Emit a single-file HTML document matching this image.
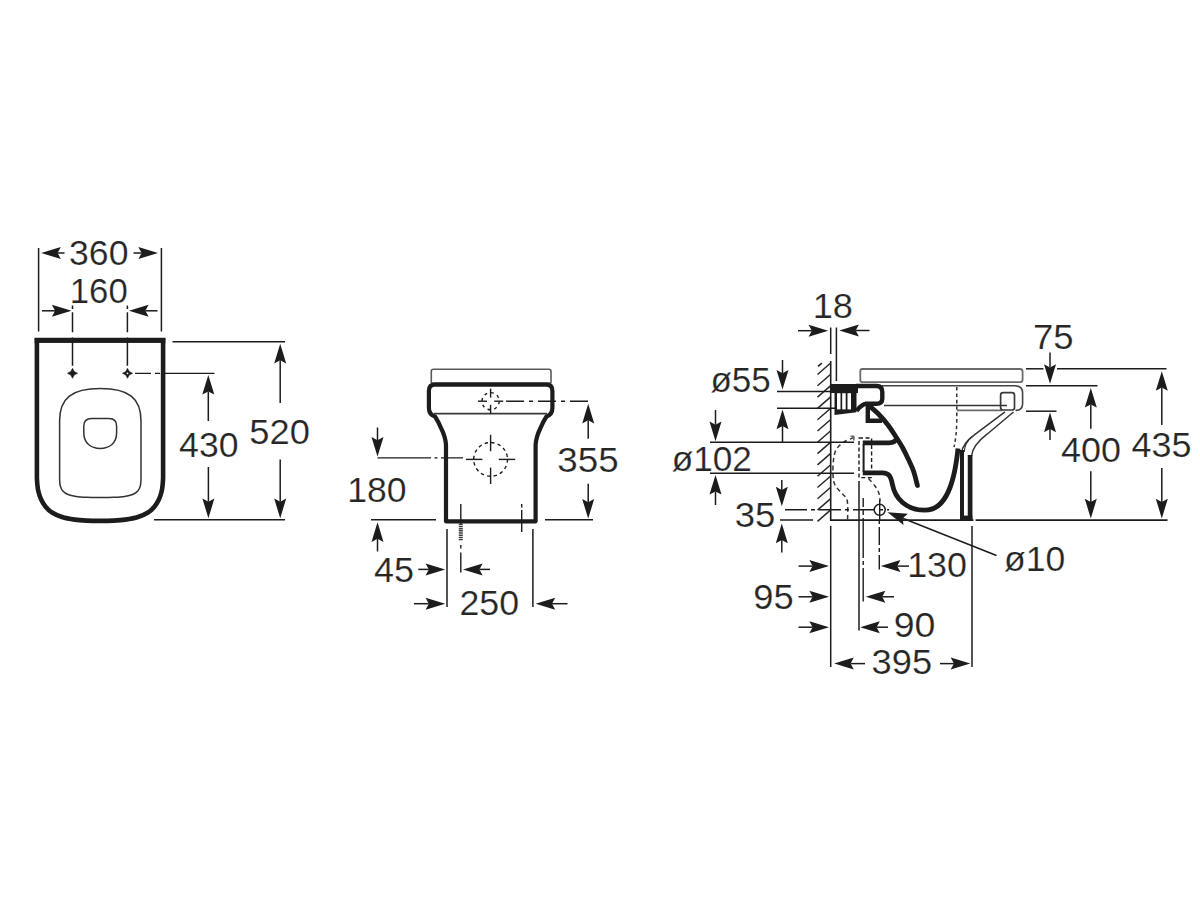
<!DOCTYPE html>
<html lang="en">
<head>
<meta charset="utf-8">
<title>Technical drawing</title>
<style>
html,body{margin:0;padding:0;background:#fff;}
body{width:1200px;height:900px;overflow:hidden;}
svg{display:block;}
svg text{font-family:"Liberation Sans",sans-serif;font-size:34.5px;fill:#262626;stroke:#fff;stroke-width:0.2px;paint-order:fill stroke;}
</style>
</head>
<body>
<svg width="1200" height="900" viewBox="0 0 1200 900" fill="#1c1c1c" stroke="#1c1c1c" stroke-linecap="butt" stroke-linejoin="round">
<rect x="0" y="0" width="1200" height="900" fill="#ffffff" stroke="none"/>
<g id="01_left">
<line x1="38.60" y1="248.00" x2="38.60" y2="331.50" stroke-width="1.50"/>
<line x1="161.40" y1="248.00" x2="161.40" y2="331.50" stroke-width="1.50"/>
<text transform="translate(69.05 264.75) scale(1.0330 1)">360</text>
<polygon stroke="none" points="41.20,253.00 60.80,247.00 57.60,253.00 60.80,259.00"/><line x1="57.60" y1="253.00" x2="64.50" y2="253.00" stroke-width="1.50"/>
<polygon stroke="none" points="158.00,253.00 138.40,259.00 141.60,253.00 138.40,247.00"/><line x1="141.60" y1="253.00" x2="133.50" y2="253.00" stroke-width="1.50"/>
<text transform="translate(69.76 302.75) scale(1.0079 1)">160</text>
<polygon stroke="none" points="71.50,310.80 51.90,316.80 55.10,310.80 51.90,304.80"/><line x1="55.10" y1="310.80" x2="42.00" y2="310.80" stroke-width="1.50"/>
<polygon stroke="none" points="129.00,310.80 148.60,304.80 145.40,310.80 148.60,316.80"/><line x1="145.40" y1="310.80" x2="157.50" y2="310.80" stroke-width="1.50"/>
<line x1="72.50" y1="305.60" x2="72.50" y2="365.80" stroke-width="1.50" stroke-dasharray="3.4 3.2 20 5.4 100 0"/>
<line x1="127.40" y1="305.60" x2="127.40" y2="365.80" stroke-width="1.50" stroke-dasharray="3.4 3.2 20 5.4 100 0"/>
<path d="M36.9 340.4 L36.9 478  C36.97 479.00 37.07 481.83 37.30 484.00 C37.53 486.17 37.68 488.45 38.30 491.00 C38.92 493.55 39.78 496.68 41.00 499.30 C42.22 501.92 43.77 504.50 45.60 506.70 C47.43 508.90 49.27 510.78 52.00 512.50 C54.73 514.22 58.22 515.82 62.00 517.00 C65.78 518.18 70.58 519.00 74.70 519.60 C78.82 520.20 82.48 520.38 86.70 520.60 C90.92 520.82 95.57 520.90 100.00 520.90 C104.43 520.90 109.08 520.82 113.30 520.60 C117.52 520.38 121.18 520.20 125.30 519.60 C129.42 519.00 134.22 518.18 138.00 517.00 C141.78 515.82 145.27 514.22 148.00 512.50 C150.73 510.78 152.57 508.90 154.40 506.70 C156.23 504.50 157.78 501.92 159.00 499.30 C160.22 496.68 161.08 493.55 161.70 491.00 C162.32 488.45 162.47 486.17 162.70 484.00 C162.93 481.83 163.03 479.00 163.10 478.00 L163.1 340.4 Z" fill="none" stroke-width="4.60" stroke-linejoin="miter"/>
<line x1="34.60" y1="340.30" x2="165.40" y2="340.30" stroke-width="5.00"/>
<path d="M59.6 476 L59.6 421 C59.6 398 72 388.6 100.3 388.6 C128.5 388.6 141 398 141 421 L141 476" fill="none" stroke-width="1.50" stroke="#333" />
<path d="M59.60 476.00 C59.62 476.83 59.58 479.33 59.70 481.00 C59.82 482.67 59.78 484.33 60.30 486.00 C60.82 487.67 61.52 489.58 62.80 491.00 C64.08 492.42 65.80 493.60 68.00 494.50 C70.20 495.40 72.88 495.95 76.00 496.40 C79.12 496.85 82.70 497.03 86.70 497.20 C90.70 497.37 95.47 497.40 100.00 497.40 C104.53 497.40 109.80 497.37 113.90 497.20 C118.00 497.03 121.48 496.85 124.60 496.40 C127.72 495.95 130.40 495.40 132.60 494.50 C134.80 493.60 136.52 492.42 137.80 491.00 C139.08 489.58 139.78 487.67 140.30 486.00 C140.82 484.33 140.78 482.67 140.90 481.00 C141.02 479.33 140.98 476.83 141.00 476.00" fill="none" stroke-width="1.50" stroke="#333" />
<path d="M83.8 426 Q83.8 418.6 91.5 418.6 L109 418.6 Q116.6 418.6 116.6 426 L116.6 433 C116.6 443 109.5 448.4 100.2 448.4 C91 448.4 83.8 443 83.8 433 Z" fill="none" stroke-width="1.50" stroke="#333" />
<path d="M72.50 368.30 L74.20 371.60 L77.50 373.30 L74.20 375.00 L72.50 378.30 L70.80 375.00 L67.50 373.30 L70.80 371.60 Z" stroke-width="0.6"/>
<path d="M127.50 368.30 L129.20 371.60 L132.50 373.30 L129.20 375.00 L127.50 378.30 L125.80 375.00 L122.50 373.30 L125.80 371.60 Z" stroke-width="0.6"/>
<circle cx="127.50" cy="373.30" r="0.9" fill="#fff" stroke="none"/>
<line x1="135.00" y1="373.40" x2="214.50" y2="373.40" stroke-width="1.20" stroke-dasharray="16 4 5 4 100 0"/>
<line x1="172.50" y1="341.80" x2="285.00" y2="341.80" stroke-width="1.50"/>
<line x1="154.00" y1="519.80" x2="285.00" y2="519.80" stroke-width="1.50"/>
<polygon stroke="none" points="280.20,343.80 286.20,363.40 280.20,360.20 274.20,363.40"/><line x1="280.20" y1="360.20" x2="280.20" y2="403.00" stroke-width="1.50"/>
<polygon stroke="none" points="280.20,518.20 274.20,498.60 280.20,501.80 286.20,498.60"/><line x1="280.20" y1="501.80" x2="280.20" y2="459.50" stroke-width="1.50"/>
<polygon stroke="none" points="208.30,375.00 214.30,394.60 208.30,391.40 202.30,394.60"/><line x1="208.30" y1="391.40" x2="208.30" y2="421.00" stroke-width="1.50"/>
<polygon stroke="none" points="208.40,518.20 202.40,498.60 208.40,501.80 214.40,498.60"/><line x1="208.40" y1="501.80" x2="208.40" y2="467.00" stroke-width="1.50"/>
<text transform="translate(179.08 456.95) scale(1.0324 1)">430</text>
<text transform="translate(249.25 443.95) scale(1.0525 1)">520</text>
</g>
<g id="02_mid">
<path d="M433.5 369.2 L549 369.2 Q551 369.2 551 371.2 L551 383 L431.3 383 L431.3 371.2 Q431.3 369.2 433.5 369.2 Z" fill="none" stroke-width="1.60" stroke="#5a5a5a" />
<path d="M435 384.7 L546.2 384.7 Q552.4 384.7 552.4 391 L552.4 408 Q552.4 414.5 546.5 416.5 Q543.5 421 540.5 428 Q536 437 535.6 445 L535.6 521.3 L446 521.3 L446 445 Q445.6 437 441 428 Q438 421 435 416.5 Q428.9 414.5 428.9 408 L428.9 391 Q428.9 384.7 435 384.7 Z" fill="none" stroke-width="4.20" />
<line x1="434.00" y1="413.60" x2="547.00" y2="413.60" stroke-width="1.70" stroke="#3a3a3a"/>
<circle cx="490.6" cy="401.2" r="8.6" fill="none" stroke-width="1.4" stroke-dasharray="3 3.75"/>
<line x1="494.20" y1="401.20" x2="503.20" y2="401.20" stroke-width="1.40"/>
<line x1="487.00" y1="401.20" x2="478.00" y2="401.20" stroke-width="1.40"/>
<line x1="490.60" y1="404.80" x2="490.60" y2="413.80" stroke-width="1.40"/>
<line x1="490.60" y1="397.60" x2="490.60" y2="388.60" stroke-width="1.40"/>
<line x1="506.00" y1="401.20" x2="589.50" y2="401.20" stroke-width="1.40" stroke-dasharray="18 5 4 5"/>
<circle cx="490.6" cy="459.4" r="16.9" fill="none" stroke-width="1.4" stroke-dasharray="3.4 3.24"/>
<line x1="498.80" y1="459.40" x2="515.20" y2="459.40" stroke-width="1.40"/>
<line x1="482.40" y1="459.40" x2="466.00" y2="459.40" stroke-width="1.40"/>
<line x1="490.60" y1="467.60" x2="490.60" y2="484.00" stroke-width="1.40"/>
<line x1="490.60" y1="451.20" x2="490.60" y2="434.80" stroke-width="1.40"/>
<line x1="377.50" y1="457.90" x2="463.00" y2="457.90" stroke-width="1.40" stroke-dasharray="53.5 3.5 3 3.5 100 0"/>
<line x1="371.00" y1="519.80" x2="436.00" y2="519.80" stroke-width="1.50"/>
<line x1="545.00" y1="519.80" x2="593.00" y2="519.80" stroke-width="1.50"/>
<polygon stroke="none" points="377.50,456.60 371.50,437.00 377.50,440.20 383.50,437.00"/><line x1="377.50" y1="440.20" x2="377.50" y2="427.50" stroke-width="1.50"/>
<polygon stroke="none" points="377.50,522.30 383.50,541.90 377.50,538.70 371.50,541.90"/><line x1="377.50" y1="538.70" x2="377.50" y2="551.50" stroke-width="1.50"/>
<text transform="translate(347.20 501.75) scale(1.0303 1)">180</text>
<polygon stroke="none" points="588.20,403.80 594.20,423.40 588.20,420.20 582.20,423.40"/><line x1="588.20" y1="420.20" x2="588.20" y2="438.80" stroke-width="1.50"/>
<polygon stroke="none" points="588.20,518.60 582.20,499.00 588.20,502.20 594.20,499.00"/><line x1="588.20" y1="502.20" x2="588.20" y2="483.80" stroke-width="1.50"/>
<text transform="translate(557.30 472.06) scale(1.0660 1)">355</text>
<line x1="447.00" y1="529.00" x2="447.00" y2="607.00" stroke-width="1.50"/>
<line x1="532.90" y1="529.00" x2="532.90" y2="607.00" stroke-width="1.50"/>
<line x1="460.80" y1="504.00" x2="460.80" y2="524.00" stroke-width="1.40"/>
<line x1="460.80" y1="523.50" x2="460.80" y2="540.30" stroke-width="4.00" stroke-dasharray="1.5 0.7" stroke="#3c3c3c"/>
<line x1="460.80" y1="545.00" x2="460.80" y2="572.50" stroke-width="1.40" stroke-dasharray="3.4 4 30 0"/>
<line x1="521.70" y1="504.00" x2="521.70" y2="532.00" stroke-width="1.40" stroke-dasharray="3.6 2.4 30 0"/>
<text transform="translate(374.07 582.25) scale(1.0437 1)">45</text>
<polygon stroke="none" points="445.20,569.40 425.60,575.40 428.80,569.40 425.60,563.40"/><line x1="428.80" y1="569.40" x2="418.30" y2="569.40" stroke-width="1.50"/>
<polygon stroke="none" points="463.00,569.40 482.60,563.40 479.40,569.40 482.60,575.40"/><line x1="479.40" y1="569.40" x2="490.00" y2="569.40" stroke-width="1.50"/>
<text transform="translate(459.41 614.75) scale(1.0353 1)">250</text>
<polygon stroke="none" points="445.20,603.70 425.60,609.70 428.80,603.70 425.60,597.70"/><line x1="428.80" y1="603.70" x2="414.00" y2="603.70" stroke-width="1.50"/>
<polygon stroke="none" points="535.60,603.70 555.20,597.70 552.00,603.70 555.20,609.70"/><line x1="552.00" y1="603.70" x2="567.50" y2="603.70" stroke-width="1.50"/>
</g>
<g id="03_right_body">
<line x1="830.70" y1="361.00" x2="830.70" y2="521.00" stroke-width="1.60"/>
<path d="M817.50 374.50 L830.7 363.00 M817.50 385.80 L830.7 374.30 M817.50 397.10 L830.7 385.60 M817.50 408.40 L830.7 396.90 M817.50 419.70 L830.7 408.20 M817.50 431.00 L830.7 419.50 M817.50 442.30 L830.7 430.80 M817.50 453.60 L830.7 442.10 M817.50 464.90 L830.7 453.40 M817.50 476.20 L830.7 464.70 M817.50 487.50 L830.7 476.00 M817.50 498.80 L830.7 487.30 M817.50 510.10 L830.7 498.60 M817.50 521.40 L830.7 509.90" fill="none" stroke-width="1.50" stroke="#2a2a2a" />
<line x1="818.00" y1="366.30" x2="821.80" y2="363.20" stroke-width="1.50"/>
<path d="M862.5 369 L1020 369 Q1022.6 369 1022.6 371.8 L1022.6 379.4 Q1022.6 382.2 1020 382.2 L862.5 382.2 Q860.3 382.2 860.3 380 L860.3 371.2 Q860.3 369 862.5 369 Z" fill="none" stroke-width="1.80" stroke="#6a6a6a" />
<path d="M882 385.8 L1015 385.8 Q1022.6 385.8 1022.6 393 L1022.6 404 Q1022.6 410.4 1015.5 410.4" fill="none" stroke-width="1.60" stroke="#444" />
<line x1="884.00" y1="405.50" x2="1007.00" y2="405.50" stroke-width="1.50" stroke="#333"/>
<line x1="957.00" y1="410.30" x2="1002.00" y2="410.30" stroke-width="1.70" stroke="#6a6a6a"/>
<rect x="1000.6" y="392.6" width="13.9" height="17.4" rx="2.6" ry="2.6" fill="none" stroke="#3a3a3a" stroke-width="1.7"/>
<path d="M956.8 387 L956.8 420 Q956.6 436 954 447" fill="none" stroke-width="1.50" stroke-dasharray="3.6 2.8" stroke="#333" />
<path d="M1005 411.8 L975 434.4 Q962 444 961.6 453" fill="none" stroke-width="1.50" stroke="#333" />
<path d="M1013.5 412 L987 434.2 Q972.5 445.5 971.5 456" fill="none" stroke-width="1.50" stroke="#333" />
<path d="M972 436.5 Q964.5 443 964.2 452" fill="none" stroke-width="1.20" stroke="#333" />
<line x1="962.00" y1="450.00" x2="962.00" y2="520.00" stroke-width="4.00"/>
<line x1="970.10" y1="455.00" x2="970.10" y2="520.00" stroke-width="4.70"/>
<line x1="960.00" y1="517.80" x2="972.40" y2="517.80" stroke-width="4.40"/>
<path d="M830.7 384 L858 384 L858 393 L856.5 393 L856.5 412.2 L834.5 415 L834.5 393 L830.7 393 Z" stroke="none"/>
<rect x="837.0" y="393.2" width="3.5" height="16.2" fill="#fff" stroke="none"/>
<rect x="842.2" y="393.2" width="3.5" height="16.2" fill="#fff" stroke="none"/>
<rect x="847.5" y="393.2" width="3.5" height="16.2" fill="#fff" stroke="none"/>
<path d="M856 386 L876.5 386 Q882.3 386 882.3 392 L882.3 398.5 Q882.3 403.8 876.5 403.8 L866 403.8 Q862 404.2 856.5 410.8" fill="none" stroke-width="4.40" />
<path d="M867.8 405 L867.8 420.7 L882 420.7" fill="none" stroke-width="4.40" stroke-linejoin="miter"/>
<path d="M869.50 406.00 C870.92 407.25 874.92 410.33 878.00 413.50 C881.08 416.67 885.00 421.08 888.00 425.00 C891.00 428.92 893.58 433.25 896.00 437.00 C898.42 440.75 900.50 443.92 902.50 447.50 C904.50 451.08 906.17 454.58 908.00 458.50 C909.83 462.42 911.93 466.50 913.50 471.00 C915.07 475.50 916.75 483.08 917.40 485.50" fill="none" stroke-width="4.80" stroke-linecap="round"/>
<path d="M862.8 442.8 L889 442.8 Q895.5 442.5 897 438" fill="none" stroke-width="4.80" />
<line x1="863.60" y1="444.00" x2="863.60" y2="472.00" stroke-width="2.00"/>
<path d="M862.8 472.8 L882.5 472.8 C889 472.8 890.8 476.5 892.3 484 C895 498.5 906 510.2 925 510.2 C942 510.2 953.5 493 958 448.5" fill="none" stroke-width="4.80" />
<rect x="859" y="438" width="12.6" height="39.6" fill="none" stroke-width="1.4" stroke-dasharray="4 2.5"/>
<path d="M854.00 437.50 C852.17 438.33 846.00 440.42 843.00 442.50 C840.00 444.58 837.58 447.08 836.00 450.00 C834.42 452.92 834.00 455.83 833.50 460.00 C833.00 464.17 832.75 470.83 833.00 475.00 C833.25 479.17 833.50 481.92 835.00 485.00 C836.50 488.08 839.97 490.92 842.00 493.50 C844.03 496.08 846.27 496.08 847.20 500.50 C848.13 504.92 847.53 516.75 847.60 520.00" fill="none" stroke-width="1.50" stroke-dasharray="4.5 3.2" stroke="#333" />
<path d="M850.5 436.2 L853.8 436.2 L853.8 440.5" fill="none" stroke-width="1.60" stroke="#6a6a6a" />
<path d="M868.50 478.50 C869.58 479.75 873.25 483.50 875.00 486.00 C876.75 488.50 878.17 491.00 879.00 493.50 C879.83 496.00 879.83 499.75 880.00 501.00" fill="none" stroke-width="1.50" stroke-dasharray="4.5 3.2" stroke="#333" />
<circle cx="879.7" cy="509.8" r="5.5" fill="none" stroke-width="1.5"/>
<line x1="879.70" y1="500.00" x2="879.70" y2="520.00" stroke-width="1.40"/>
<line x1="830.00" y1="520.10" x2="973.50" y2="520.10" stroke-width="1.90"/>
<line x1="975.60" y1="520.10" x2="1167.50" y2="520.10" stroke-width="1.90"/>
</g>
<g id="04_right_dims">
<text transform="translate(812.64 318.06) scale(1.0508 1)">18</text>
<line x1="830.70" y1="327.50" x2="830.70" y2="354.00" stroke-width="1.50"/>
<line x1="836.40" y1="327.50" x2="836.40" y2="381.00" stroke-width="1.50"/>
<polygon stroke="none" points="828.20,330.70 808.60,336.70 811.80,330.70 808.60,324.70"/><line x1="811.80" y1="330.70" x2="798.00" y2="330.70" stroke-width="1.50"/>
<polygon stroke="none" points="839.30,330.50 858.90,324.50 855.70,330.50 858.90,336.50"/><line x1="855.70" y1="330.50" x2="869.50" y2="330.50" stroke-width="1.50"/>
<text transform="translate(710.43 391.75) scale(1.0169 1)">ø55</text>
<line x1="777.00" y1="391.50" x2="835.00" y2="391.50" stroke-width="1.50"/>
<line x1="777.00" y1="408.30" x2="835.00" y2="408.30" stroke-width="1.50"/>
<polygon stroke="none" points="782.50,389.60 776.50,370.00 782.50,373.20 788.50,370.00"/><line x1="782.50" y1="373.20" x2="782.50" y2="360.00" stroke-width="1.50"/>
<polygon stroke="none" points="782.50,409.60 788.50,429.20 782.50,426.00 776.50,429.20"/><line x1="782.50" y1="426.00" x2="782.50" y2="442.50" stroke-width="1.50"/>
<text transform="translate(671.63 471.06) scale(1.0205 1)">ø102</text>
<line x1="710.00" y1="442.30" x2="854.00" y2="442.30" stroke-width="1.50"/>
<line x1="710.00" y1="473.30" x2="854.00" y2="473.30" stroke-width="1.50"/>
<polygon stroke="none" points="715.50,441.20 709.50,421.60 715.50,424.80 721.50,421.60"/><line x1="715.50" y1="424.80" x2="715.50" y2="410.00" stroke-width="1.50"/>
<polygon stroke="none" points="715.50,475.00 721.50,494.60 715.50,491.40 709.50,494.60"/><line x1="715.50" y1="491.40" x2="715.50" y2="505.00" stroke-width="1.50"/>
<text transform="translate(734.81 527.05) scale(1.0589 1)">35</text>
<polygon stroke="none" points="781.80,506.30 775.80,486.70 781.80,489.90 787.80,486.70"/><line x1="781.80" y1="489.90" x2="781.80" y2="480.00" stroke-width="1.50"/>
<polygon stroke="none" points="781.80,523.60 787.80,543.20 781.80,540.00 775.80,543.20"/><line x1="781.80" y1="540.00" x2="781.80" y2="552.50" stroke-width="1.50"/>
<line x1="785.00" y1="509.80" x2="889.00" y2="509.80" stroke-width="1.40" stroke-dasharray="22 4 4 4"/>
<line x1="780.00" y1="520.10" x2="813.00" y2="520.10" stroke-width="1.50"/>
<line x1="830.70" y1="526.00" x2="830.70" y2="667.00" stroke-width="1.50"/>
<line x1="859.00" y1="481.00" x2="859.00" y2="630.50" stroke-width="1.50"/>
<line x1="863.20" y1="498.00" x2="863.20" y2="601.50" stroke-width="1.40" stroke-dasharray="9 3 5 3 40 3 4 3 100 0"/>
<line x1="879.30" y1="520.00" x2="879.30" y2="569.50" stroke-width="1.40" stroke-dasharray="4 3 18 3 4 3 100 0"/>
<line x1="972.00" y1="526.00" x2="972.00" y2="667.00" stroke-width="1.50"/>
<text transform="translate(907.17 576.75) scale(1.0396 1)">130</text>
<polygon stroke="none" points="829.00,566.10 809.40,572.10 812.60,566.10 809.40,560.10"/><line x1="812.60" y1="566.10" x2="798.50" y2="566.10" stroke-width="1.50"/>
<polygon stroke="none" points="880.80,566.10 900.40,560.10 897.20,566.10 900.40,572.10"/><line x1="897.20" y1="566.10" x2="909.00" y2="566.10" stroke-width="1.50"/>
<text transform="translate(753.19 608.55) scale(1.0540 1)">95</text>
<polygon stroke="none" points="829.00,596.80 809.40,602.80 812.60,596.80 809.40,590.80"/><line x1="812.60" y1="596.80" x2="798.50" y2="596.80" stroke-width="1.50"/>
<polygon stroke="none" points="865.80,596.80 885.40,590.80 882.20,596.80 885.40,602.80"/><line x1="882.20" y1="596.80" x2="894.00" y2="596.80" stroke-width="1.50"/>
<text transform="translate(893.64 637.36) scale(1.0877 1)">90</text>
<polygon stroke="none" points="829.00,627.20 809.40,633.20 812.60,627.20 809.40,621.20"/><line x1="812.60" y1="627.20" x2="798.50" y2="627.20" stroke-width="1.50"/>
<polygon stroke="none" points="860.20,627.20 879.80,621.20 876.60,627.20 879.80,633.20"/><line x1="876.60" y1="627.20" x2="888.00" y2="627.20" stroke-width="1.50"/>
<text transform="translate(871.52 673.55) scale(1.0532 1)">395</text>
<polygon stroke="none" points="834.20,663.60 853.80,657.60 850.60,663.60 853.80,669.60"/><line x1="850.60" y1="663.60" x2="865.00" y2="663.60" stroke-width="1.50"/>
<polygon stroke="none" points="970.30,663.60 950.70,669.60 953.90,663.60 950.70,657.60"/><line x1="953.90" y1="663.60" x2="940.00" y2="663.60" stroke-width="1.50"/>
<text transform="translate(1004.12 571.05) scale(1.0290 1)">ø10</text>
<polygon stroke="none" points="887.50,512.20 907.93,513.86 902.74,518.25 903.50,525.01"/><line x1="902.74" y1="518.25" x2="996.50" y2="555.50" stroke-width="1.50"/>
<text transform="translate(1033.04 349.06) scale(1.0582 1)">75</text>
<line x1="1026.00" y1="368.80" x2="1043.50" y2="368.80" stroke-width="1.50"/>
<line x1="1057.00" y1="368.80" x2="1166.50" y2="368.80" stroke-width="1.50"/>
<line x1="1026.00" y1="385.80" x2="1097.50" y2="385.80" stroke-width="1.50"/>
<line x1="1026.00" y1="411.20" x2="1056.50" y2="411.20" stroke-width="1.50"/>
<polygon stroke="none" points="1050.00,383.80 1044.00,364.20 1050.00,367.40 1056.00,364.20"/><line x1="1050.00" y1="367.40" x2="1050.00" y2="352.50" stroke-width="1.50"/>
<polygon stroke="none" points="1050.00,412.60 1056.00,432.20 1050.00,429.00 1044.00,432.20"/><line x1="1050.00" y1="429.00" x2="1050.00" y2="440.00" stroke-width="1.50"/>
<text transform="translate(1061.07 461.75) scale(1.0414 1)">400</text>
<polygon stroke="none" points="1090.80,388.00 1096.80,407.60 1090.80,404.40 1084.80,407.60"/><line x1="1090.80" y1="404.40" x2="1090.80" y2="428.80" stroke-width="1.50"/>
<polygon stroke="none" points="1090.80,518.40 1084.80,498.80 1090.80,502.00 1096.80,498.80"/><line x1="1090.80" y1="502.00" x2="1090.80" y2="471.30" stroke-width="1.50"/>
<text transform="translate(1131.57 456.75) scale(1.0433 1)">435</text>
<polygon stroke="none" points="1161.80,371.20 1167.80,390.80 1161.80,387.60 1155.80,390.80"/><line x1="1161.80" y1="387.60" x2="1161.80" y2="425.00" stroke-width="1.50"/>
<polygon stroke="none" points="1161.80,518.40 1155.80,498.80 1161.80,502.00 1167.80,498.80"/><line x1="1161.80" y1="502.00" x2="1161.80" y2="468.00" stroke-width="1.50"/>
</g>
</svg>
</body>
</html>
